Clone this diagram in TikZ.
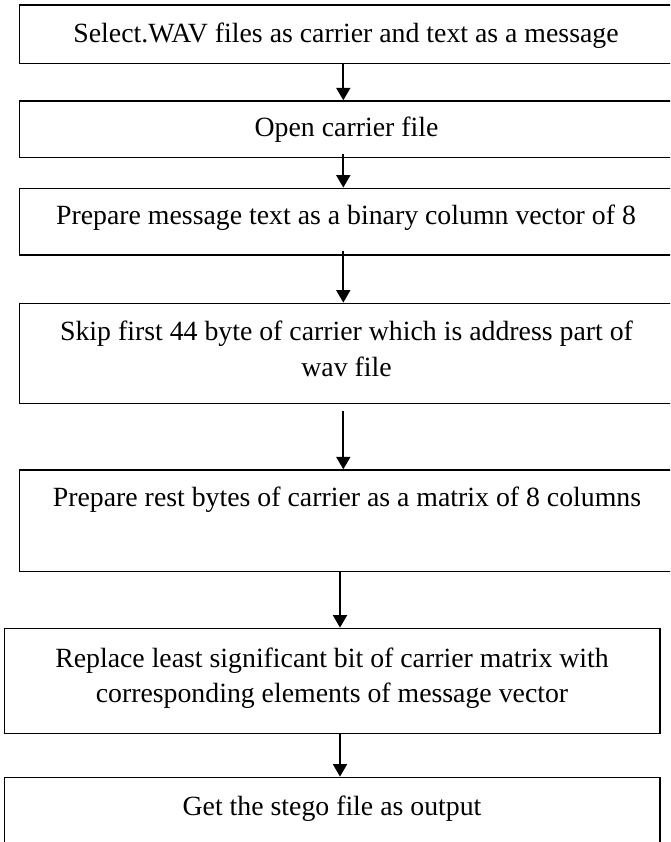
\documentclass[tikz,border=0pt]{standalone}
\usepackage{fontspec}
\setmainfont{Liberation Serif}
\usetikzlibrary{arrows.meta}
\begin{document}
\begin{tikzpicture}[x=1pt,y=-1pt,
  box/.style={draw=black, line width=1.4pt, rectangle, inner sep=0pt},
  txt/.style={inner sep=0pt, anchor=base, align=center,
    font=\fontsize{27.8}{36.7}\selectfont},
  flow/.style={line width=1.9pt, -{Triangle[width=14pt,length=12.5pt]}}]
  % page frame
  \fill[white] (0,0) rectangle (670,842);
  \clip (0,0) rectangle (670,842);

  % process boxes
  \node[box, minimum width=680.7pt, minimum height=58.3pt]  (b1) at (359.65,34.15) {};
  \node[box, minimum width=680.7pt, minimum height=56.3pt]  (b2) at (359.65,129.15) {};
  \node[box, minimum width=680.7pt, minimum height=66.7pt]  (b3) at (359.65,221.65) {};
  \node[box, minimum width=680.7pt, minimum height=100pt]   (b4) at (359.65,353.3) {};
  \node[box, minimum width=680.7pt, minimum height=101.7pt] (b5) at (359.65,520.85) {};
  \node[box, minimum width=655.3pt, minimum height=105pt]   (b6) at (332.35,680.8) {};
  \node[box, minimum width=655.3pt, minimum height=122.7pt] (b7) at (332.35,838.65) {};

  % box texts (a two-line node sits on the baseline of its last line)
  \node[txt] (t1) at (346,42.7) {Select.WAV files as carrier and text as a message};
  \node[txt] (t2) at (346.5,137) {Open carrier file};
  \node[txt] (t3) at (346,224) {Prepare message text as a binary column vector of 8};
  \node[txt] (t4) at (346.5,376.7) {Skip first 44 byte of carrier which is address part of\\wav file};
  \node[txt] (t5) at (347,506.7) {Prepare rest bytes of carrier as a matrix of 8 columns};
  \node[txt, font=\fontsize{27.8}{34.3}\selectfont] (t6) at (332,702)
    {Replace least significant bit of carrier matrix with\\corresponding elements of message vector};
  \node[txt] (t7) at (332,815) {Get the stego file as output};

  % connectors
  \coordinate (ax) at (343.3,0);
  \coordinate (bx) at (340,0);
  \draw[flow] (b1.south -| ax) -- (b2.north -| ax);
  \draw[flow, shorten <=-4pt] (b2.south -| ax) -- (b3.north -| ax);
  \draw[flow, shorten <=-5pt] (b3.south -| ax) -- (b4.north -| ax);
  \draw[flow, shorten <=7pt] (b4.south -| ax) -- (b5.north -| ax);
  \draw[flow] (b5.south -| bx) -- (b6.north -| bx);
  \draw[flow] (b6.south -| bx) -- (b7.north -| bx);
\end{tikzpicture}
\end{document}
